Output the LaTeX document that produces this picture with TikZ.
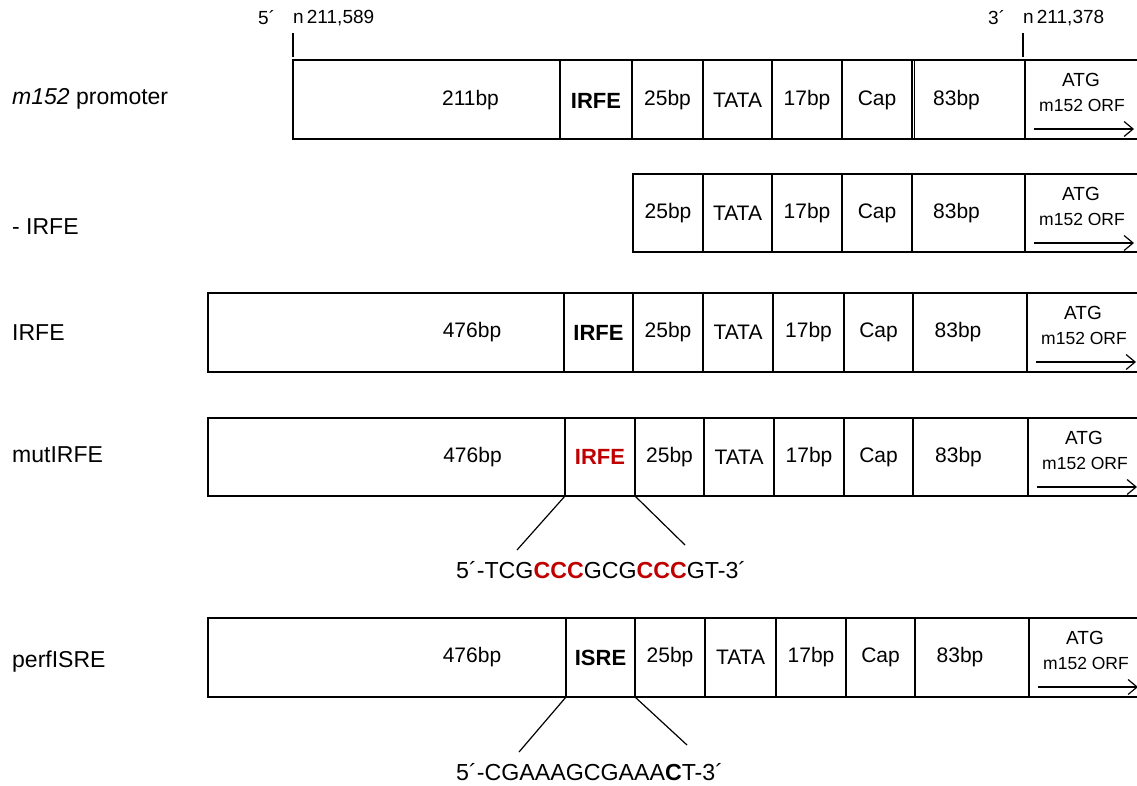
\documentclass[tikz,border=0pt]{standalone}
\usepackage{fontspec}
\setmainfont{Liberation Sans}
\usetikzlibrary{arrows.meta}
\definecolor{mutred}{HTML}{C00000}
\newcommand\mkcell[5]{\node[cell, minimum width={(#3-#2)*1pt}, minimum height={(#5-#4)*1pt}] (#1) at (#2,#4) {};}
\newcommand\orfbox[1]{%
  \node[atg] (#1t1) at ([shift={(56,20)}]#1.north west) {ATG};
  \node[orf] (#1t2) at ([shift={(57,45)}]#1.north west) {m152 ORF};
  \coordinate (#1as) at ([shift={(9,69)}]#1.north west);
  \coordinate (#1ae) at ([shift={(109,69)}]#1.north west);
  \draw[orfarrow] (#1as) -- (#1ae);}
\begin{document}
\begin{tikzpicture}[x=1pt,y=-1pt,
 cell/.style={draw, line width=1.4pt, rectangle, inner sep=0pt, outer sep=0pt, anchor=north west},
 lbl/.style={inner sep=0pt, font=\fontsize{21}{24}\selectfont},
 blbl/.style={inner sep=0pt, font=\fontsize{22}{24}\selectfont\bfseries},
 rowlbl/.style={inner sep=0pt, anchor=west, font=\fontsize{23}{26}\selectfont},
 toplbl/.style={inner sep=0pt, anchor=west, font=\fontsize{19}{22}\selectfont},
 atg/.style={inner sep=0pt, font=\fontsize{19}{22}\selectfont},
 orf/.style={inner sep=0pt, font=\fontsize{17.5}{20}\selectfont},
 orfarrow/.style={line width=1.2pt, -{Straight Barb[length=9pt,width=15pt,line width=1.2pt]}},
 seqlbl/.style={inner sep=0pt, anchor=west, font=\fontsize{23.2}{26}\selectfont},
 seqlink/.style={line width=1.2pt},
 ticklines/.style={line width=2pt}]
\useasboundingbox (0,0) rectangle (1137,785);

% top markers
\node[toplbl] (p5) at (258,18) {5´};
\node[toplbl] (n1) at (293,18) {n\,211,589};
\node[toplbl] (p3) at (988,18) {3´};
\node[toplbl] (n2) at (1023,18) {n\,211,378};
\coordinate (t1) at (293,33);
\coordinate (t2) at (1023,33);
\draw[ticklines] (t1) -- ++(0,24);
\draw[ticklines] (t2) -- ++(0,24);

% row labels
\node[rowlbl] (l1) at (12,99) {\textit{m152} promoter};
\node[rowlbl] (l2) at (12,227) {- IRFE};
\node[rowlbl] (l3) at (12,333) {IRFE};
\node[rowlbl] (l4) at (12,455) {mutIRFE};
\node[rowlbl] (l5) at (12,662) {perfISRE};

% row 1
\mkcell{r1a}{293}{560}{60}{139}
\mkcell{r1b}{560}{632}{60}{139}
\mkcell{r1c}{632}{703}{60}{139}
\mkcell{r1d}{703}{772}{60}{139}
\mkcell{r1e}{772}{842}{60}{139}
\mkcell{r1f}{842}{912}{60}{139}
\mkcell{r1g}{912}{1025}{60}{139}
\mkcell{r1h}{1025}{1145}{60}{139}
\draw[line width=1pt] ([xshift=2.5pt]r1g.north west) -- ([xshift=2.5pt]r1g.south west);
\node[lbl] (r1at) at ([xshift=44pt,yshift=-1pt]r1a) {211bp};
\node[blbl] (r1bt) at ([yshift=-1pt]r1b) {IRFE};
\node[lbl] (r1ct) at ([yshift=-1pt]r1c) {25bp};
\node[lbl] (r1dt) at ([yshift=-1pt]r1d) {TATA};
\node[lbl] (r1et) at ([yshift=-1pt]r1e) {17bp};
\node[lbl] (r1ft) at ([yshift=-1pt]r1f) {Cap};
\node[lbl] (r1gt) at ([xshift=-12pt,yshift=-1pt]r1g) {83bp};
\orfbox{r1h}

% row 2
\mkcell{r2c}{633}{703}{174}{252}
\mkcell{r2d}{703}{772}{174}{252}
\mkcell{r2e}{772}{842}{174}{252}
\mkcell{r2f}{842}{912}{174}{252}
\mkcell{r2g}{912}{1025}{174}{252}
\mkcell{r2h}{1025}{1145}{174}{252}
\draw[line width=2.6pt] (r2c.north west) -- (r2c.south west);
\node[lbl] (r2ct) at (r2c) {25bp};
\node[lbl] (r2dt) at (r2d) {TATA};
\node[lbl] (r2et) at (r2e) {17bp};
\node[lbl] (r2ft) at (r2f) {Cap};
\node[lbl] (r2gt) at ([xshift=-12pt]r2g) {83bp};
\orfbox{r2h}

% row 3
\mkcell{r3a}{208}{564}{293}{372}
\mkcell{r3b}{564}{633}{293}{372}
\mkcell{r3c}{633}{703}{293}{372}
\mkcell{r3d}{703}{773}{293}{372}
\mkcell{r3e}{773}{844}{293}{372}
\mkcell{r3f}{844}{913}{293}{372}
\mkcell{r3g}{913}{1027}{293}{372}
\mkcell{r3h}{1027}{1145}{293}{372}
\node[lbl] (r3at) at ([xshift=86pt]r3a) {476bp};
\node[blbl] (r3bt) at (r3b) {IRFE};
\node[lbl] (r3ct) at (r3c) {25bp};
\node[lbl] (r3dt) at (r3d) {TATA};
\node[lbl] (r3et) at (r3e) {17bp};
\node[lbl] (r3ft) at (r3f) {Cap};
\node[lbl] (r3gt) at ([xshift=-12pt]r3g) {83bp};
\orfbox{r3h}

% row 4
\mkcell{r4a}{208}{565}{418}{496}
\mkcell{r4b}{565}{635}{418}{496}
\mkcell{r4c}{635}{704}{418}{496}
\mkcell{r4d}{704}{774}{418}{496}
\mkcell{r4e}{774}{844}{418}{496}
\mkcell{r4f}{844}{913}{418}{496}
\mkcell{r4g}{913}{1028}{418}{496}
\mkcell{r4h}{1028}{1145}{418}{496}
\node[lbl] (r4at) at ([xshift=86pt]r4a) {476bp};
\node[blbl, text=mutred] (r4bt) at (r4b) {IRFE};
\node[lbl] (r4ct) at (r4c) {25bp};
\node[lbl] (r4dt) at (r4d) {TATA};
\node[lbl] (r4et) at (r4e) {17bp};
\node[lbl] (r4ft) at (r4f) {Cap};
\node[lbl] (r4gt) at ([xshift=-12pt]r4g) {83bp};
\orfbox{r4h}

\node[seqlbl] (seq4) at (456,570) {5´-TCG\textcolor{mutred}{\textbf{CCC}}GCG\textcolor{mutred}{\textbf{CCC}}GT-3´};
\coordinate (s4l) at (517,550);
\coordinate (s4r) at (685,545);
\draw[seqlink] (r4b.south west) -- (s4l);
\draw[seqlink] (r4b.south east) -- (s4r);

% row 5
\mkcell{r5a}{208}{566}{618}{697}
\mkcell{r5b}{566}{635}{618}{697}
\mkcell{r5c}{635}{705}{618}{697}
\mkcell{r5d}{705}{776}{618}{697}
\mkcell{r5e}{776}{846}{618}{697}
\mkcell{r5f}{846}{915}{618}{697}
\mkcell{r5g}{915}{1029}{618}{697}
\mkcell{r5h}{1029}{1145}{618}{697}
\node[lbl] (r5at) at ([xshift=85pt]r5a) {476bp};
\node[blbl] (r5bt) at (r5b) {ISRE};
\node[lbl] (r5ct) at (r5c) {25bp};
\node[lbl] (r5dt) at (r5d) {TATA};
\node[lbl] (r5et) at (r5e) {17bp};
\node[lbl] (r5ft) at (r5f) {Cap};
\node[lbl] (r5gt) at ([xshift=-12pt]r5g) {83bp};
\orfbox{r5h}

\node[seqlbl] (seq5) at (456,772) {5´-CGAAAGCGAAA\textbf{C}T-3´};
\coordinate (s5l) at (519,752);
\coordinate (s5r) at (687,745);
\draw[seqlink] (r5b.south west) -- (s5l);
\draw[seqlink] (r5b.south east) -- (s5r);
\end{tikzpicture}
\end{document}
